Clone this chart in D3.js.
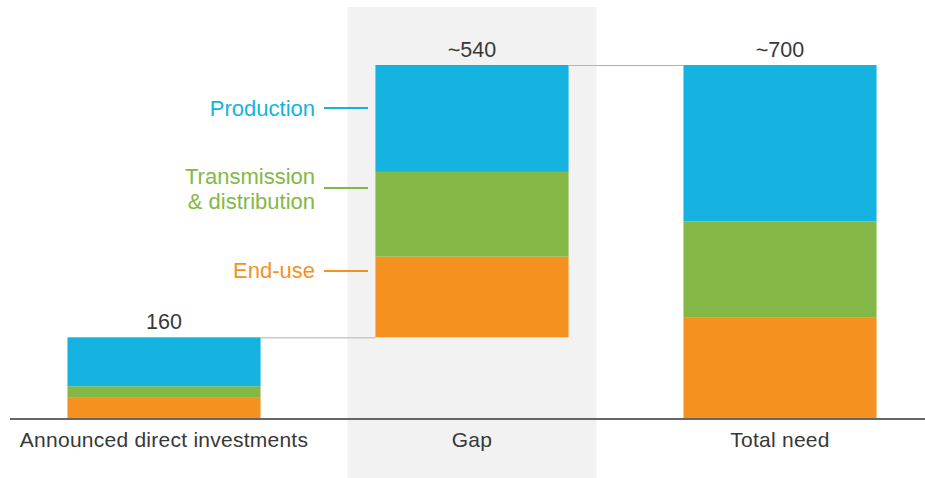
<!DOCTYPE html>
<html>
<head>
<meta charset="utf-8">
<script src="https://cdn.jsdelivr.net/npm/d3@7"></script>
<style>
  html, body { margin: 0; padding: 0; background: #fff; }
  svg { display: block; font-family: "Liberation Sans", Arial, Helvetica, sans-serif; }
</style>
</head>
<body>
<svg id="chart" width="925" height="478"></svg>
<script>
// Investment components by stage
const categories = ["Announced direct investments", "Gap", "Total need"];
const series = ["End-use", "Transmission & distribution", "Production"];
const endUse = [40, 160, 200];
const transmission = [23, 168, 190];
const production = [97, 212, 310];
// Bar floors: the gap bar sits on top of announced investments
const baseValues = [0, 160, 0];
const totalLabels = ["160", "~540", "~700"];
const colors = { "End-use": "#f5921f", "Transmission & distribution": "#84b846", "Production": "#15b3e0" };

const svg = d3.select("#chart");
const W = 925, H = 478;
const baselineY = 418;

const x = d3.scaleBand()
  .domain(categories)
  .range([10, 934])
  .paddingInner(0.373)
  .paddingOuter(0.1865);

const y = d3.scaleLinear().domain([0, 700]).range([baselineY, 65]);

// Shaded panel behind the gap column
const gapX = x("Gap");
svg.append("rect")
  .attr("x", gapX - 28)
  .attr("y", 7)
  .attr("width", x.bandwidth() + 56)
  .attr("height", H - 7)
  .attr("fill", "#f2f2f2");

// Build stacked rows
const rows = categories.map((c, i) => ({
  category: c,
  base: baseValues[i],
  "End-use": endUse[i],
  "Transmission & distribution": transmission[i],
  "Production": production[i]
}));

const stack = d3.stack().keys(series);
const layers = stack(rows);

svg.append("g").selectAll("g")
  .data(layers)
  .join("g")
  .attr("fill", d => colors[d.key])
  .selectAll("rect")
  .data(d => d)
  .join("rect")
  .attr("x", d => x(d.data.category))
  .attr("width", x.bandwidth())
  .attr("y", d => y(d[1] + d.data.base))
  .attr("height", d => y(d[0] + d.data.base) - y(d[1] + d.data.base));

// Connector lines between consecutive bar tops/floors
const tops = rows.map(r => r.base + r["End-use"] + r["Transmission & distribution"] + r["Production"]);
const connectors = [
  { x1: x(categories[0]) + x.bandwidth(), x2: x(categories[1]), v: tops[0] },
  { x1: x(categories[1]) + x.bandwidth(), x2: x(categories[2]), v: tops[1] }
];
svg.append("g").selectAll("line")
  .data(connectors)
  .join("line")
  .attr("x1", d => d.x1)
  .attr("x2", d => d.x2)
  .attr("y1", d => y(d.v) + 0.5)
  .attr("y2", d => y(d.v) + 0.5)
  .attr("stroke", "#b3b3b3")
  .attr("stroke-width", 1);

// Total labels above bars
svg.append("g").selectAll("text")
  .data(rows)
  .join("text")
  .attr("x", d => x(d.category) + x.bandwidth() / 2)
  .attr("y", (d, i) => y(tops[i]) - 8)
  .attr("text-anchor", "middle")
  .attr("font-size", 21.5)
  .attr("fill", "#383838")
  .text((d, i) => totalLabels[i]);

// Baseline
svg.append("line")
  .attr("x1", 10).attr("x2", W)
  .attr("y1", baselineY + 1).attr("y2", baselineY + 1)
  .attr("stroke", "#666")
  .attr("stroke-width", 2);

// Category labels
const xAxis = d3.axisBottom(x).tickSize(0).tickPadding(0);
const ax = svg.append("g")
  .attr("transform", `translate(0,${baselineY})`)
  .call(xAxis);
ax.select(".domain").remove();
ax.selectAll("text")
  .attr("y", 29)
  .attr("dy", null)
  .attr("font-size", 21)
  .attr("letter-spacing", 0.25)
  .attr("font-family", "'Liberation Sans', Arial, sans-serif")
  .attr("fill", "#383838");

// Series labels with leader lines, left of the gap bar
const legend = [
  { key: "Production", lines: ["Production"], lineY: 108, textY: [116] },
  { key: "Transmission & distribution", lines: ["Transmission", "& distribution"], lineY: 188, textY: [184, 209] },
  { key: "End-use", lines: ["End-use"], lineY: 271, textY: [278] }
];
const lg = svg.append("g");
legend.forEach(item => {
  lg.append("line")
    .attr("x1", 324).attr("x2", 368)
    .attr("y1", item.lineY).attr("y2", item.lineY)
    .attr("stroke", colors[item.key])
    .attr("stroke-width", 2);
  item.lines.forEach((t, j) => {
    lg.append("text")
      .attr("x", 315)
      .attr("y", item.textY[j])
      .attr("text-anchor", "end")
      .attr("font-size", 22)
      .attr("fill", colors[item.key])
      .text(t);
  });
});
</script>
</body>
</html>
